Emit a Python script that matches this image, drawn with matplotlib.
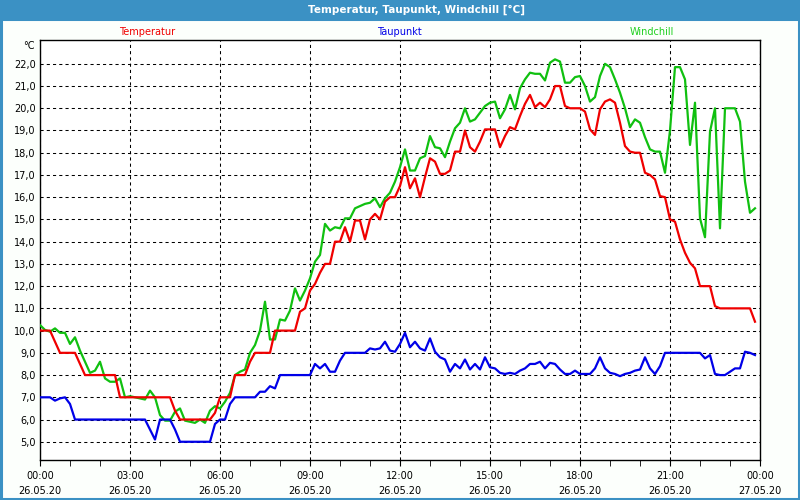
import numpy as np
import matplotlib.pyplot as plt
from matplotlib.patches import Rectangle

# Messwerte alle 10 Minuten, 26.05.20 00:00 bis 23:50
minutes = np.arange(0, 1440, 10)

temperatur = [
    10.0, 10.0, 10.0, 9.5, 9.0, 9.0, 9.0, 9.0, 8.5, 8.0, 8.0, 8.0,
    8.0, 8.0, 8.0, 8.0, 7.0, 7.0, 7.0, 7.0, 7.0, 7.0, 7.0, 7.0,
    7.0, 7.0, 7.0, 6.4, 6.0, 6.0, 6.0, 6.0, 6.0, 6.0, 6.0, 6.3,
    7.0, 7.0, 7.0, 8.0, 8.0, 8.0, 8.6, 9.0, 9.0, 9.0, 9.0, 10.0,
    10.0, 10.0, 10.0, 10.0, 10.85, 11.0, 11.8, 12.1, 12.6, 13.0, 13.0, 14.0,
    14.0, 14.65, 14.0, 14.95, 14.95, 14.1, 15.0, 15.25, 15.0, 15.8, 16.0, 16.0,
    16.5, 17.35, 16.4, 16.85, 16.0, 16.9, 17.75, 17.6, 17.05, 17.05, 17.2, 18.05,
    18.05, 19.0, 18.25, 18.05, 18.5, 19.05, 19.05, 19.05, 18.25, 18.75, 19.15, 19.05,
    19.65, 20.2, 20.6, 20.05, 20.25, 20.05, 20.4, 21.0, 21.0, 20.1, 20.0, 20.0,
    20.0, 19.85, 19.05, 18.8, 19.95, 20.3, 20.4, 20.25, 19.35, 18.3, 18.05, 18.0,
    18.0, 17.1, 17.0, 16.8, 16.05, 16.0, 15.0, 14.9, 14.1, 13.5, 13.05, 12.8,
    12.0, 12.0, 12.0, 11.1, 11.0, 11.0, 11.0, 11.0, 11.0, 11.0, 11.0, 10.4,
]

taupunkt = [
    7.0, 7.0, 7.0, 6.85, 6.95, 7.0, 6.7, 6.0, 6.0, 6.0, 6.0, 6.0,
    6.0, 6.0, 6.0, 6.0, 6.0, 6.0, 6.0, 6.0, 6.0, 6.0, 5.55, 5.1,
    6.0, 6.0, 6.0, 5.55, 5.0, 5.0, 5.0, 5.0, 5.0, 5.0, 5.0, 5.8,
    6.0, 6.0, 6.7, 7.0, 7.0, 7.0, 7.0, 7.0, 7.25, 7.25, 7.5, 7.4,
    8.0, 8.0, 8.0, 8.0, 8.0, 8.0, 8.0, 8.5, 8.3, 8.5, 8.15, 8.15,
    8.65, 9.0, 9.0, 9.0, 9.0, 9.0, 9.2, 9.15, 9.2, 9.5, 9.1, 9.05,
    9.4, 9.9, 9.25, 9.5, 9.2, 9.1, 9.65, 9.05, 8.8, 8.7, 8.15, 8.5,
    8.3, 8.7, 8.25, 8.5, 8.25, 8.8, 8.35, 8.3, 8.1, 8.05, 8.1, 8.05,
    8.2, 8.3, 8.5, 8.5, 8.6, 8.3, 8.55, 8.5, 8.25, 8.05, 8.05, 8.2,
    8.05, 8.05, 8.05, 8.3, 8.8, 8.3, 8.1, 8.05, 7.95, 8.05, 8.1, 8.2,
    8.25, 8.8, 8.3, 8.05, 8.4, 9.0, 9.0, 9.0, 9.0, 9.0, 9.0, 9.0,
    9.0, 8.75, 8.9, 8.05, 8.0, 8.0, 8.15, 8.3, 8.3, 9.05, 9.0, 8.9,
]

windchill = [
    10.25, 10.03, 9.95, 10.1, 9.9, 9.9, 9.4, 9.7, 9.1, 8.6, 8.1, 8.2,
    8.6, 7.85, 7.7, 7.7, 7.85, 7.0, 7.05, 7.0, 6.95, 6.9, 7.3, 7.0,
    6.2, 5.95, 5.95, 6.35, 6.5, 5.95, 5.9, 5.85, 6.0, 5.85, 6.4, 6.6,
    6.5, 6.8, 7.2, 8.0, 8.15, 8.25, 9.0, 9.35, 10.0, 11.3, 9.6, 9.6,
    10.5, 10.45, 10.9, 11.9, 11.35, 11.8, 12.35, 13.1, 13.4, 14.8, 14.5, 14.65,
    14.6, 15.05, 15.05, 15.5, 15.6, 15.7, 15.75, 15.95, 15.55, 15.95, 16.2, 16.7,
    17.35, 18.15, 17.2, 17.2, 17.75, 17.85, 18.75, 18.25, 18.2, 17.8, 18.5, 19.1,
    19.35, 20.0, 19.4, 19.5, 19.8, 20.1, 20.25, 20.3, 19.55, 19.95, 20.6, 19.95,
    20.9, 21.3, 21.6, 21.55, 21.55, 21.25, 22.05, 22.2, 22.1, 21.15, 21.15, 21.4,
    21.45, 21.0, 20.3, 20.5, 21.45, 22.0, 21.85, 21.3, 20.7, 20.0, 19.15, 19.5,
    19.35, 18.7, 18.15, 18.05, 18.05, 17.1, 19.0, 21.85, 21.85, 21.3, 18.35, 20.25,
    15.05, 14.2, 18.95, 20.0, 14.6, 20.0, 20.0, 20.0, 19.4, 16.7, 15.3, 15.5,
]

tick_minutes = np.arange(0, 1441, 180)
tick_times = ["00:00", "03:00", "06:00", "09:00", "12:00", "15:00", "18:00", "21:00", "00:00"]
tick_dates = ["26.05.20"] * 8 + ["27.05.20"]
y_ticks = np.arange(5, 23)

bar_blue = '#3b91c4'
bg = '#fcfffc'
c_temp = '#f00000'
c_tau = '#0000e8'
c_wind = '#10c010'

plt.rcParams['font.family'] = ['DejaVu Sans']

fig = plt.figure(figsize=(8, 5), dpi=100, facecolor=bg)

# Fensterrahmen mit Titelleiste
fig.patches.append(Rectangle((0, 0.96), 1, 0.04, transform=fig.transFigure,
                             facecolor=bar_blue, edgecolor='none', zorder=0))
fig.patches.append(Rectangle((0.0015, 0.003), 0.997, 0.96, transform=fig.transFigure,
                             facecolor='none', edgecolor=bar_blue, lw=2.2, zorder=0))
fig.text(417 / 800, 1 - 10 / 500, "Temperatur, Taupunkt, Windchill [°C]",
         color='white', fontsize=7.5, fontweight='bold', ha='center', va='center')

fig.text(147 / 800, 1 - 32 / 500, "Temperatur", color=c_temp, fontsize=7, ha='center', va='center')
fig.text(399 / 800, 1 - 32 / 500, "Taupunkt", color=c_tau, fontsize=7, ha='center', va='center')
fig.text(652 / 800, 1 - 32 / 500, "Windchill", color='#20d020', fontsize=7, ha='center', va='center')
fig.text(35 / 800, 1 - 46 / 500, "°C", color='black', fontsize=7, ha='right', va='center')

ax = fig.add_axes([40 / 800, 40 / 500, 720 / 800, 420 / 500])
ax.set_facecolor('white')

ax.plot(minutes, windchill, color=c_wind, lw=1.6, zorder=3)
ax.plot(minutes, taupunkt, color=c_tau, lw=1.6, zorder=3)
ax.plot(minutes, temperatur, color=c_temp, lw=1.6, zorder=4)

ax.set_xlim(0, 1440)
ax.set_ylim(4.18, 23.07)

ax.set_yticks(y_ticks)
ax.set_yticklabels([f"{v:.1f}".replace('.', ',') for v in y_ticks])
ax.set_xticks(tick_minutes)
ax.set_xticklabels([f"{t}\n{d}" for t, d in zip(tick_times, tick_dates)])
ax.set_xticks(np.arange(0, 1441, 60), minor=True)

ax.tick_params(axis='y', length=0, pad=3, labelsize=7, colors='black')
ax.tick_params(axis='x', which='both', length=4, direction='out', pad=4, labelsize=7)
for lbl in ax.get_xticklabels():
    lbl.set_linespacing(1.55)

ax.grid(True, color='black', lw=0.75, linestyle=(0, (3, 3)), zorder=1)
for s in ax.spines.values():
    s.set_color('black')
    s.set_linewidth(1.0)

fig.savefig('out.png', dpi=100, facecolor=bg)
